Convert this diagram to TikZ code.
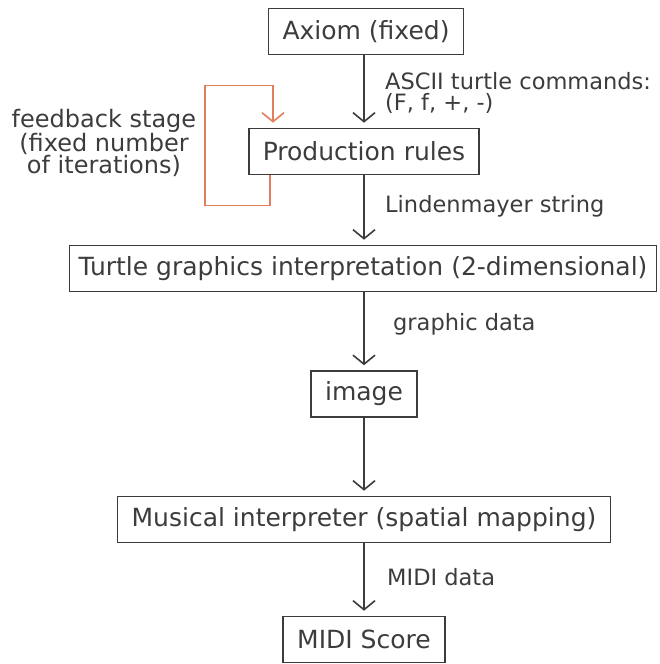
\documentclass[tikz,border=0pt]{standalone}
\usepackage{fontspec}
\setmainfont{DejaVu Sans}
\usepackage{tikz}
\usetikzlibrary{arrows.meta}
\definecolor{ink}{HTML}{3C3C3C}
\definecolor{loopred}{RGB}{226,126,92}
\tikzset{>={Straight Barb[length=9pt, width=22pt]}}
\tikzset{
    stage/.style={draw=ink, line width=1.6pt, text=ink, minimum height=46pt, inner xsep=14pt, font=\fontsize{25}{24}\selectfont},
    flow/.style={->, draw=ink, line width=1.6pt, shorten >=5pt},
    note/.style={anchor=west, inner sep=0pt, text=ink, align=left, font=\fontsize{22.5}{21}\selectfont},
}

\begin{document}
\begin{tikzpicture}[x=1pt, y=1pt]
    \useasboundingbox(0, 0)rectangle(659, -664);
    \node[stage](axiom)at(366, -31.5){Axiom (fixed)};
    \node[stage](rules)at(364, -151.5){Production rules};
    \node[stage, inner xsep=9pt](turtle)at(363, -268.5){Turtle graphics interpretation (2-dimensional)};
    \node[stage](image)at(364, -394){image};
    \node[stage](musical)at(364, -519.5){Musical interpreter (spatial mapping)};
    \node[stage](score)at(364, -639.5){MIDI Score};
    \draw[flow](rules|-axiom.south)--(rules);
    \draw[flow](rules)--(rules|-turtle.north);
    \draw[flow](rules|-turtle.south)--(image);
    \draw[flow](image)--(musical);
    \draw[flow](musical)--(score);
    \node[note](ascii)at(385, -93){ASCII turtle commands:\\(F, f, +, -)};
    \node[note](lstring)at(385, -206){Lindenmayer string};
    \node[note](gdata)at(393, -324){graphic data};
    \node[note](mdata)at(387, -577){MIDI data};
    \node[text=ink, align=center, inner sep=0pt, font=\fontsize{24}{22.5}\selectfont](feedback)at(104, -143){feedback stage\\(fixed number\\of iterations)};
    \draw[->, draw=loopred, line width=1.6pt, shorten >=5pt]([xshift=22pt]rules.south west)--++(0, -30)--++(-65, 0)--++(0, 120)--++(68, 0)--([xshift=25pt]rules.north west);
\end{tikzpicture}
\end{document}
